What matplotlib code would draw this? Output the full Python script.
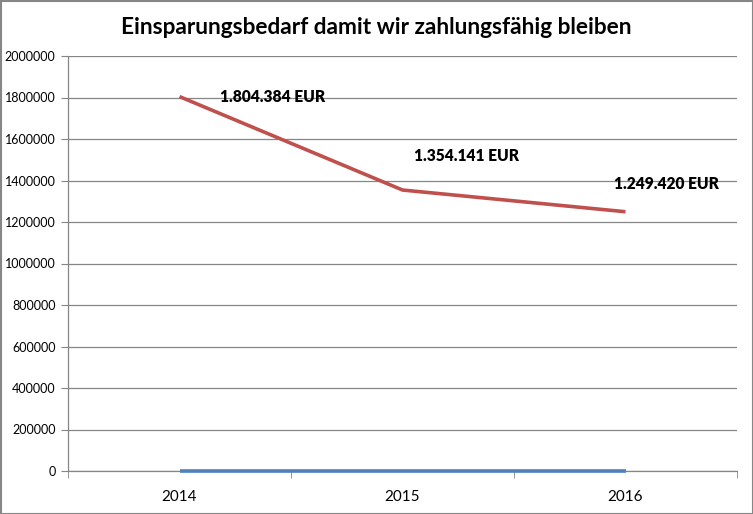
import matplotlib
matplotlib.use("Agg")
import matplotlib.pyplot as plt
from matplotlib.patches import Rectangle

years = ["2014", "2015", "2016"]
bedarf = [1804384, 1354141, 1249420]
zero_series = [0, 0, 0]
labels = ["1.804.384 EUR", "1.354.141 EUR", "1.249.420 EUR"]
label_offsets_px = [(41, 0), (11, 34), (-12, 28)]
yticks = list(range(0, 2000001, 200000))

plt.rcParams['font.family'] = ['Lato', 'DejaVu Sans']

fig = plt.figure(figsize=(7.53, 5.14), dpi=100)
ax = fig.add_axes([68/753, 1-471/514, (737-68)/753, (471-56)/514])

x = list(range(len(years)))
ax.plot(x, zero_series, color="#4F81BD", lw=2.6, solid_capstyle="butt", zorder=3, clip_on=False)
ax.plot(x, bedarf, color="#C0504D", lw=2.6, solid_capstyle="butt", zorder=4)

for xi, yi, lab, off in zip(x, bedarf, labels, label_offsets_px):
    ax.annotate(lab, (xi, yi), xytext=(off[0]*0.72, off[1]*0.72), textcoords="offset points",
                ha="left", va="center", fontsize=11.2, fontweight="heavy", color="black", zorder=5)

ax.set_xlim(-0.5, 2.5)
ax.set_ylim(0, 2000000)
ax.set_yticks(yticks)
ax.set_yticklabels([str(v) for v in yticks])
ax.set_xticks(x)
ax.set_xticklabels(years)
ax.set_xticks([-0.5, 0.5, 1.5, 2.5], minor=True)
ax.tick_params(axis="x", which="major", length=0, pad=14, labelsize=11)
ax.tick_params(axis="x", which="minor", length=5, direction="out", color="#868686")
ax.tick_params(axis="y", length=5, direction="out", color="#868686", labelsize=9, pad=4)
ax.yaxis.grid(True, color="#868686", lw=0.9)
ax.set_axisbelow(True)
for s in ["top", "right"]:
    ax.spines[s].set_visible(False)
for s in ["left", "bottom"]:
    ax.spines[s].set_color("#868686")
    ax.spines[s].set_linewidth(0.9)

fig.text(376/753, 1-27/514, "Einsparungsbedarf damit wir zahlungsfähig bleiben",
         ha="center", va="center", fontsize=16.3, fontweight="bold")

fig.patches.append(Rectangle((0.5/753, 0.5/514), 1-1/753, 1-1/514, transform=fig.transFigure,
                             fill=False, edgecolor="#868686", lw=1.5))

fig.savefig("out.png", dpi=100)
